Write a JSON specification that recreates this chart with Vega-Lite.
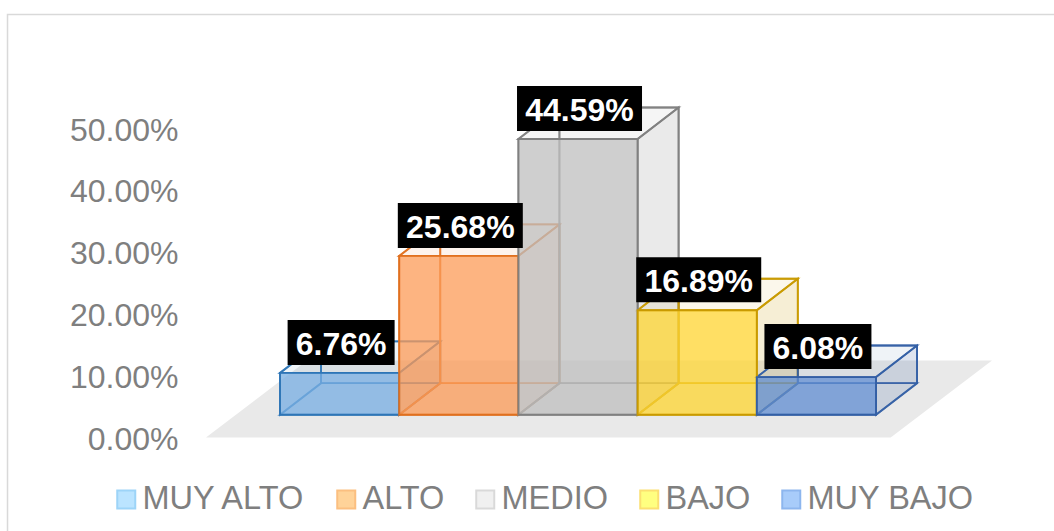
{"$schema":"https://vega.github.io/schema/vega-lite/v6.json","width":1054,"height":531,"padding":0,"autosize":"none","background":"white","config":{"view":{"stroke":null},"font":"Liberation Sans"},
"datasets":{
"barras":[{"categoria":"MUY ALTO","posicion":0.5,"valor":0.0676},{"categoria":"ALTO","posicion":1.5,"valor":0.2568},{"categoria":"MEDIO","posicion":2.5,"valor":0.4459},{"categoria":"BAJO","posicion":3.5,"valor":0.1689},{"categoria":"MUY BAJO","posicion":4.5,"valor":0.0608}],
"caras":[
{"s":"MUY ALTO","c":"fondo","n":1,"x":0.344,"y":0.051},{"s":"MUY ALTO","c":"fondo","n":2,"x":1.344,"y":0.051},{"s":"MUY ALTO","c":"fondo","n":3,"x":1.344,"y":0.1186},{"s":"MUY ALTO","c":"fondo","n":4,"x":0.344,"y":0.1186},
{"s":"MUY ALTO","c":"base","n":1,"x":0,"y":0},{"s":"MUY ALTO","c":"base","n":2,"x":1,"y":0},{"s":"MUY ALTO","c":"base","n":3,"x":1.344,"y":0.051},{"s":"MUY ALTO","c":"base","n":4,"x":0.344,"y":0.051},
{"s":"MUY ALTO","c":"izquierda","n":1,"x":0,"y":0},{"s":"MUY ALTO","c":"izquierda","n":2,"x":0.344,"y":0.051},{"s":"MUY ALTO","c":"izquierda","n":3,"x":0.344,"y":0.1186},{"s":"MUY ALTO","c":"izquierda","n":4,"x":0,"y":0.0676},
{"s":"MUY ALTO","c":"derecha","n":1,"x":1,"y":0},{"s":"MUY ALTO","c":"derecha","n":2,"x":1.344,"y":0.051},{"s":"MUY ALTO","c":"derecha","n":3,"x":1.344,"y":0.1186},{"s":"MUY ALTO","c":"derecha","n":4,"x":1,"y":0.0676},
{"s":"MUY ALTO","c":"tapa","n":1,"x":0,"y":0.0676},{"s":"MUY ALTO","c":"tapa","n":2,"x":1,"y":0.0676},{"s":"MUY ALTO","c":"tapa","n":3,"x":1.344,"y":0.1186},{"s":"MUY ALTO","c":"tapa","n":4,"x":0.344,"y":0.1186},
{"s":"MUY ALTO","c":"frente","n":1,"x":0,"y":0},{"s":"MUY ALTO","c":"frente","n":2,"x":1,"y":0},{"s":"MUY ALTO","c":"frente","n":3,"x":1,"y":0.0676},{"s":"MUY ALTO","c":"frente","n":4,"x":0,"y":0.0676},

{"s":"ALTO","c":"fondo","n":1,"x":1.344,"y":0.051},{"s":"ALTO","c":"fondo","n":2,"x":2.344,"y":0.051},{"s":"ALTO","c":"fondo","n":3,"x":2.344,"y":0.3078},{"s":"ALTO","c":"fondo","n":4,"x":1.344,"y":0.3078},
{"s":"ALTO","c":"base","n":1,"x":1,"y":0},{"s":"ALTO","c":"base","n":2,"x":2,"y":0},{"s":"ALTO","c":"base","n":3,"x":2.344,"y":0.051},{"s":"ALTO","c":"base","n":4,"x":1.344,"y":0.051},
{"s":"ALTO","c":"izquierda","n":1,"x":1,"y":0},{"s":"ALTO","c":"izquierda","n":2,"x":1.344,"y":0.051},{"s":"ALTO","c":"izquierda","n":3,"x":1.344,"y":0.3078},{"s":"ALTO","c":"izquierda","n":4,"x":1,"y":0.2568},
{"s":"ALTO","c":"derecha","n":1,"x":2,"y":0},{"s":"ALTO","c":"derecha","n":2,"x":2.344,"y":0.051},{"s":"ALTO","c":"derecha","n":3,"x":2.344,"y":0.3078},{"s":"ALTO","c":"derecha","n":4,"x":2,"y":0.2568},
{"s":"ALTO","c":"tapa","n":1,"x":1,"y":0.2568},{"s":"ALTO","c":"tapa","n":2,"x":2,"y":0.2568},{"s":"ALTO","c":"tapa","n":3,"x":2.344,"y":0.3078},{"s":"ALTO","c":"tapa","n":4,"x":1.344,"y":0.3078},
{"s":"ALTO","c":"frente","n":1,"x":1,"y":0},{"s":"ALTO","c":"frente","n":2,"x":2,"y":0},{"s":"ALTO","c":"frente","n":3,"x":2,"y":0.2568},{"s":"ALTO","c":"frente","n":4,"x":1,"y":0.2568},

{"s":"MEDIO","c":"fondo","n":1,"x":2.344,"y":0.051},{"s":"MEDIO","c":"fondo","n":2,"x":3.344,"y":0.051},{"s":"MEDIO","c":"fondo","n":3,"x":3.344,"y":0.4969},{"s":"MEDIO","c":"fondo","n":4,"x":2.344,"y":0.4969},
{"s":"MEDIO","c":"base","n":1,"x":2,"y":0},{"s":"MEDIO","c":"base","n":2,"x":3,"y":0},{"s":"MEDIO","c":"base","n":3,"x":3.344,"y":0.051},{"s":"MEDIO","c":"base","n":4,"x":2.344,"y":0.051},
{"s":"MEDIO","c":"izquierda","n":1,"x":2,"y":0},{"s":"MEDIO","c":"izquierda","n":2,"x":2.344,"y":0.051},{"s":"MEDIO","c":"izquierda","n":3,"x":2.344,"y":0.4969},{"s":"MEDIO","c":"izquierda","n":4,"x":2,"y":0.4459},
{"s":"MEDIO","c":"derecha","n":1,"x":3,"y":0},{"s":"MEDIO","c":"derecha","n":2,"x":3.344,"y":0.051},{"s":"MEDIO","c":"derecha","n":3,"x":3.344,"y":0.4969},{"s":"MEDIO","c":"derecha","n":4,"x":3,"y":0.4459},
{"s":"MEDIO","c":"tapa","n":1,"x":2,"y":0.4459},{"s":"MEDIO","c":"tapa","n":2,"x":3,"y":0.4459},{"s":"MEDIO","c":"tapa","n":3,"x":3.344,"y":0.4969},{"s":"MEDIO","c":"tapa","n":4,"x":2.344,"y":0.4969},
{"s":"MEDIO","c":"frente","n":1,"x":2,"y":0},{"s":"MEDIO","c":"frente","n":2,"x":3,"y":0},{"s":"MEDIO","c":"frente","n":3,"x":3,"y":0.4459},{"s":"MEDIO","c":"frente","n":4,"x":2,"y":0.4459},

{"s":"BAJO","c":"fondo","n":1,"x":3.344,"y":0.051},{"s":"BAJO","c":"fondo","n":2,"x":4.344,"y":0.051},{"s":"BAJO","c":"fondo","n":3,"x":4.344,"y":0.2199},{"s":"BAJO","c":"fondo","n":4,"x":3.344,"y":0.2199},
{"s":"BAJO","c":"base","n":1,"x":3,"y":0},{"s":"BAJO","c":"base","n":2,"x":4,"y":0},{"s":"BAJO","c":"base","n":3,"x":4.344,"y":0.051},{"s":"BAJO","c":"base","n":4,"x":3.344,"y":0.051},
{"s":"BAJO","c":"izquierda","n":1,"x":3,"y":0},{"s":"BAJO","c":"izquierda","n":2,"x":3.344,"y":0.051},{"s":"BAJO","c":"izquierda","n":3,"x":3.344,"y":0.2199},{"s":"BAJO","c":"izquierda","n":4,"x":3,"y":0.1689},
{"s":"BAJO","c":"derecha","n":1,"x":4,"y":0},{"s":"BAJO","c":"derecha","n":2,"x":4.344,"y":0.051},{"s":"BAJO","c":"derecha","n":3,"x":4.344,"y":0.2199},{"s":"BAJO","c":"derecha","n":4,"x":4,"y":0.1689},
{"s":"BAJO","c":"tapa","n":1,"x":3,"y":0.1689},{"s":"BAJO","c":"tapa","n":2,"x":4,"y":0.1689},{"s":"BAJO","c":"tapa","n":3,"x":4.344,"y":0.2199},{"s":"BAJO","c":"tapa","n":4,"x":3.344,"y":0.2199},
{"s":"BAJO","c":"frente","n":1,"x":3,"y":0},{"s":"BAJO","c":"frente","n":2,"x":4,"y":0},{"s":"BAJO","c":"frente","n":3,"x":4,"y":0.1689},{"s":"BAJO","c":"frente","n":4,"x":3,"y":0.1689},

{"s":"MUY BAJO","c":"fondo","n":1,"x":4.344,"y":0.051},{"s":"MUY BAJO","c":"fondo","n":2,"x":5.344,"y":0.051},{"s":"MUY BAJO","c":"fondo","n":3,"x":5.344,"y":0.1118},{"s":"MUY BAJO","c":"fondo","n":4,"x":4.344,"y":0.1118},
{"s":"MUY BAJO","c":"base","n":1,"x":4,"y":0},{"s":"MUY BAJO","c":"base","n":2,"x":5,"y":0},{"s":"MUY BAJO","c":"base","n":3,"x":5.344,"y":0.051},{"s":"MUY BAJO","c":"base","n":4,"x":4.344,"y":0.051},
{"s":"MUY BAJO","c":"izquierda","n":1,"x":4,"y":0},{"s":"MUY BAJO","c":"izquierda","n":2,"x":4.344,"y":0.051},{"s":"MUY BAJO","c":"izquierda","n":3,"x":4.344,"y":0.1118},{"s":"MUY BAJO","c":"izquierda","n":4,"x":4,"y":0.0608},
{"s":"MUY BAJO","c":"derecha","n":1,"x":5,"y":0},{"s":"MUY BAJO","c":"derecha","n":2,"x":5.344,"y":0.051},{"s":"MUY BAJO","c":"derecha","n":3,"x":5.344,"y":0.1118},{"s":"MUY BAJO","c":"derecha","n":4,"x":5,"y":0.0608},
{"s":"MUY BAJO","c":"tapa","n":1,"x":4,"y":0.0608},{"s":"MUY BAJO","c":"tapa","n":2,"x":5,"y":0.0608},{"s":"MUY BAJO","c":"tapa","n":3,"x":5.344,"y":0.1118},{"s":"MUY BAJO","c":"tapa","n":4,"x":4.344,"y":0.1118},
{"s":"MUY BAJO","c":"frente","n":1,"x":4,"y":0},{"s":"MUY BAJO","c":"frente","n":2,"x":5,"y":0},{"s":"MUY BAJO","c":"frente","n":3,"x":5,"y":0.0608},{"s":"MUY BAJO","c":"frente","n":4,"x":4,"y":0.0608}
]},
"encoding":{
"x":{"type":"quantitative","scale":{"domain":[-2.349,6.493],"nice":false,"zero":false},"axis":null},
"y":{"type":"quantitative","scale":{"domain":[-0.1881,0.6707],"nice":false,"zero":false}}
},
"layer":[
{"data":{"values":[{"n":1,"x":-2.286,"y":-0.1881},{"n":2,"x":-2.286,"y":0.6473},{"n":3,"x":6.493,"y":0.6473}]},
"mark":{"type":"line","stroke":"#d9d9d9","strokeWidth":1.5,"clip":true},
"encoding":{"x":{"field":"x","type":"quantitative"},"y":{"field":"y","type":"quantitative","axis":{"title":null,"values":[0,0.1,0.2,0.3,0.4,0.5],"format":".2%","offset":-178,"domain":false,"ticks":false,"grid":false,"labelPadding":0,"labelAlign":"right","labelFontSize":32,"labelFont":"Liberation Sans","labelColor":"#7f7f7f","labelOffset":24.5}},"order":{"field":"n","type":"ordinal"}}},
{"data":{"values":[{"n":1,"x":-0.621,"y":-0.0369},{"n":2,"x":5.123,"y":-0.0369},{"n":3,"x":5.973,"y":0.0877},{"n":4,"x":0.227,"y":0.0877}]},
"mark":{"type":"line","interpolate":"linear-closed","fill":"#e9e9e9","stroke":null,"strokeWidth":0},
"encoding":{"x":{"field":"x","type":"quantitative"},"y":{"field":"y","type":"quantitative"},"order":{"field":"n","type":"ordinal"}}},
{"data":{"name":"caras"},"transform":[{"filter":"datum.c !== 'frente'"}],
"mark":{"type":"line","interpolate":"linear-closed","strokeWidth":1.9,"strokeJoin":"miter"},
"encoding":{"x":{"field":"x","type":"quantitative"},"y":{"field":"y","type":"quantitative"},"order":{"field":"n","type":"ordinal"},
"detail":{"field":"c"},
"fill":{"field":"s","type":"nominal","legend":null,"scale":{"domain":["MUY ALTO","ALTO","MEDIO","BAJO","MUY BAJO"],"range":["#2e75b6","#e0701f","#808080","#c99a00","#335fa5"]}},
"stroke":{"field":"s","type":"nominal","legend":null,"scale":{"domain":["MUY ALTO","ALTO","MEDIO","BAJO","MUY BAJO"],"range":["#2e75b6","#e0701f","#808080","#c99a00","#335fa5"]}},
"fillOpacity":{"field":"c","type":"nominal","legend":null,"scale":{"type":"ordinal","domain":["fondo","base","izquierda","derecha","tapa"],"range":[0.04,0.04,0.04,0.13,0.04]}},
"strokeOpacity":{"field":"c","type":"nominal","legend":null,"scale":{"type":"ordinal","domain":["fondo","base","izquierda","derecha","tapa"],"range":[0.8,0.7,0.7,0.9,0.9]}}}},
{"data":{"name":"caras"},"transform":[{"filter":"datum.c === 'frente'"}],
"mark":{"type":"line","interpolate":"linear-closed","strokeWidth":1.9,"strokeJoin":"miter","fillOpacity":0.75},
"encoding":{"x":{"field":"x","type":"quantitative"},"y":{"field":"y","type":"quantitative"},"order":{"field":"n","type":"ordinal"},
"fill":{"field":"s","type":"nominal","legend":null,"scale":{"domain":["MUY ALTO","ALTO","MEDIO","BAJO","MUY BAJO"],"range":["#78afe3","#fc9c5a","#c0c0c0","#ffd633","#608ed2"]}},
"stroke":{"field":"s","type":"nominal","legend":null,"scale":{"domain":["MUY ALTO","ALTO","MEDIO","BAJO","MUY BAJO"],"range":["#2e75b6","#e0701f","#808080","#c99a00","#335fa5"]}}}},
{"data":{"name":"barras"},"transform":[{"filter":"datum.valor < 0.1"}],
"mark":{"type":"rect","width":107,"height":45,"fill":"#000000","xOffset":1.5,"yOffset":-30.5},
"encoding":{"x":{"field":"posicion","type":"quantitative"},"y":{"field":"valor","type":"quantitative"}}},
{"data":{"name":"barras"},"transform":[{"filter":"datum.valor >= 0.1"}],
"mark":{"type":"rect","width":125,"height":45,"fill":"#000000","xOffset":1.5,"yOffset":-30.5},
"encoding":{"x":{"field":"posicion","type":"quantitative"},"y":{"field":"valor","type":"quantitative"}}},
{"data":{"name":"barras"},
"mark":{"type":"text","font":"Liberation Sans","fontSize":32,"fontWeight":"bold","color":"#ffffff","align":"center","baseline":"middle","dx":1.5,"dy":-28},
"encoding":{"x":{"field":"posicion","type":"quantitative"},"y":{"field":"valor","type":"quantitative"},"text":{"field":"valor","type":"quantitative","format":".2%"}}},
{"data":{"name":"barras"},
"mark":{"type":"point","shape":"square","filled":true,"opacity":0,"size":1,"strokeWidth":2,"stroke":{"expr":"{'MUY ALTO':'#9dd4f8','ALTO':'#fbbf80','MEDIO':'#d9d9d9','BAJO':'#fbe070','MUY BAJO':'#8db6ee'}[datum.value]"}},
"encoding":{"x":{"field":"posicion","type":"quantitative"},"y":{"field":"valor","type":"quantitative"},
"fill":{"field":"categoria","type":"nominal","scale":{"domain":["MUY ALTO","ALTO","MEDIO","BAJO","MUY BAJO"],"range":["#bbe4ff","#ffd399","#f0f0f0","#ffff80","#a8ccfa"]},
"legend":{"title":null,"orient":"none","legendX":110,"legendY":483,"direction":"horizontal","columns":5,"columnPadding":24,"symbolType":"square","symbolSize":324,"symbolOpacity":1,"symbolStrokeWidth":2,"labelFont":"Liberation Sans","labelFontSize":32.5,"labelColor":"#7f7f7f","labelOffset":0,"labelOpacity":1,"labelLimit":300,"padding":0}}}}
],
"resolve":{"scale":{"fill":"independent"}}
}
